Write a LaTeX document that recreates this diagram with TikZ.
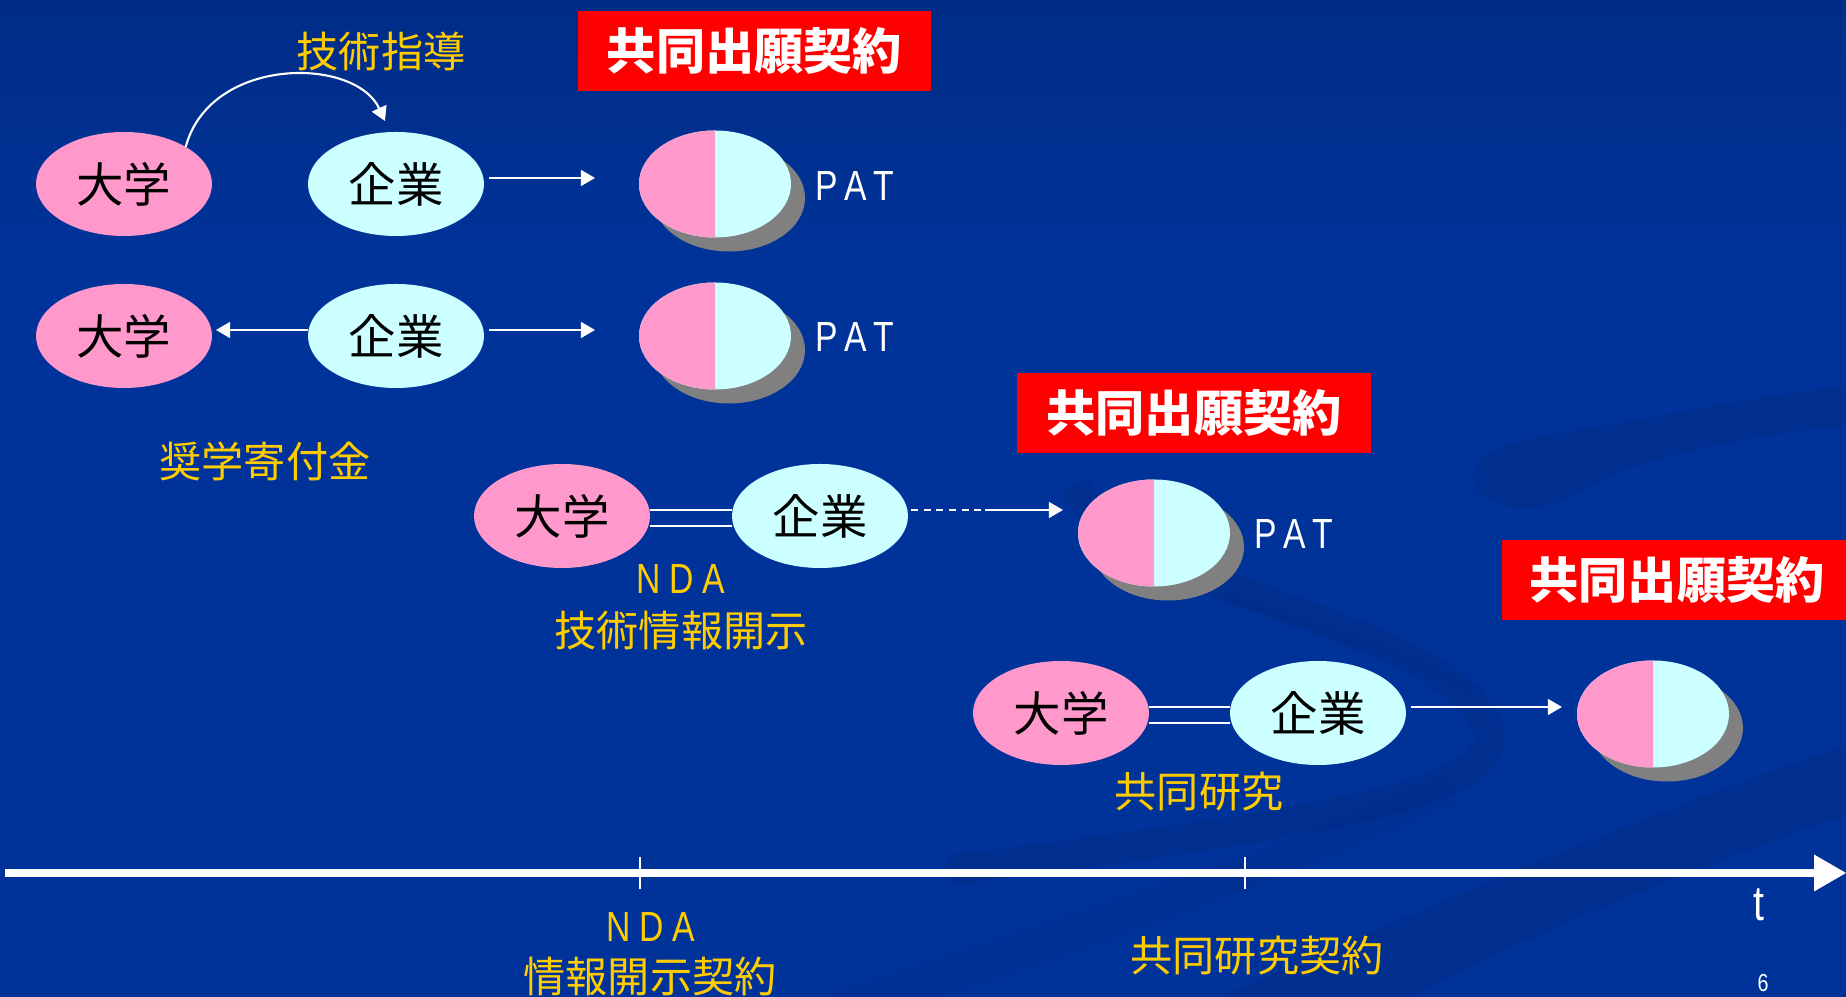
\documentclass[tikz,border=0pt]{standalone}
\usepackage{fontspec}
\usetikzlibrary{shapes.geometric,arrows.meta}
\newfontfamily\jp{Noto Sans CJK JP}
\newfontfamily\lat[FakeStretch=0.8]{Liberation Sans}
\definecolor{bgmain}{RGB}{0,51,153}
\definecolor{bgtop}{RGB}{0,44,134}
\definecolor{swc}{RGB}{0,40,125}
\definecolor{pinkc}{RGB}{255,153,204}
\definecolor{cyanc}{RGB}{204,255,255}
\definecolor{grayc}{RGB}{128,128,128}
\definecolor{yel}{RGB}{255,204,0}
\tikzset{
 uni/.style={ellipse, fill=pinkc, minimum width=1.76cm, minimum height=1.04cm, inner sep=0pt, outer sep=0pt, font=\jp\fontsize{13.5}{15}\selectfont, text=black},
 corp/.style={uni, fill=cyanc},
 pieback/.style={ellipse, fill=#1, minimum width=1.52cm, minimum height=1.07cm, inner sep=0pt, outer sep=0pt},
 redbox/.style={fill=red, minimum height=0.8cm, inner sep=0pt, font=\jp\bfseries\fontsize{14}{15}\selectfont, text=white},
 ylab/.style={text=yel, font=\jp\fontsize{12}{14}\selectfont, inner sep=0pt},
 ylat/.style={text=yel, font=\lat\fontsize{12}{14}\selectfont, inner sep=0pt},
 pat/.style={text=white, font=\lat\fontsize{12}{14}\selectfont, inner sep=0pt},
 arr/.style={draw=white, line width=0.6pt, -{Triangle[length=4pt,width=4.5pt]}},
 dbl/.style={draw=white, line width=0.6pt},
 swoosh/.style={fill=swc, fill opacity=0.35},
 swline/.style={draw=swc, draw opacity=0.3},
}
\newcommand\mypie[3]{%
 \node[pieback=grayc] (#1s) at (#2+0.14,#3-0.14) {};
 \node[pieback=cyanc] (#1) at (#2,#3) {};
 \fill[pinkc] (#1.north) arc[start angle=90,end angle=270,x radius=0.76cm,y radius=0.535cm] -- cycle;
}
\begin{document}
\begin{tikzpicture}
\useasboundingbox (0,0) rectangle (18.46,-9.97);
% background
\fill[bgmain] (0,0) rectangle (18.46,-9.97);
\shade[top color=bgtop, bottom color=bgmain] (0,0) rectangle (18.46,-2.6);
% swooshes
\fill[swoosh] (14.75,-4.9) .. controls (14.6,-4.45) and (15.4,-4.35) .. (16.1,-4.25)
  .. controls (16.9,-4.1) and (17.7,-3.95) .. (18.46,-3.86) -- (18.46,-4.25)
  .. controls (17.6,-4.35) and (16.8,-4.5) .. (16.3,-4.68)
  .. controls (15.7,-4.95) and (15.3,-5.3) .. (14.75,-4.9) -- cycle;
\draw[swline, line width=0.3cm] (10.75,-4.85) .. controls (11.2,-5.9) and (14.3,-6.2) .. (14.85,-7.2)
  .. controls (15.2,-7.9) and (13.5,-8.2) .. (9.5,-8.7);
\draw[swline, line width=0.05cm] (12.3,-6.0) .. controls (13.2,-6.3) and (14.2,-6.6) .. (14.7,-6.9);
\fill[swoosh] (12.2,-9.97) .. controls (14,-9.2) and (16,-8.3) .. (18.46,-7.45) -- (18.46,-8.15)
  .. controls (16.6,-8.8) and (15.2,-9.4) .. (14.1,-9.97) -- cycle;
\fill[swoosh, fill opacity=0.2] (8.2,-9.97) .. controls (10,-9.4) and (12.5,-8.6) .. (14.4,-7.8) -- (14.6,-8.0)
  .. controls (12.6,-8.9) and (10.5,-9.6) .. (9.4,-9.97) -- cycle;

% row 1
\node[uni] (u1) at (1.24,-1.84) {大学};
\node[corp] (c1) at (3.96,-1.84) {企業};
\mypie{p1}{7.15}{-1.84}
\node[pat] (pat1) at (8.55,-1.86) {P\hspace{0.15em}A\hspace{0.15em}T};
\node[redbox, minimum width=3.53cm] (box1) at (7.545,-0.51) {共同出願契約};
\node[ylab] (lab1) at (3.81,-0.51) {技術指導};
\coordinate (a1) at (5.95,-1.78);
\draw[arr] ([xshift=0.05cm,yshift=0.06cm]c1.east) -- (a1);
\draw[arr] (u1.31) .. controls (2.1,-0.56) and (3.55,-0.56) .. ([xshift=-0.11cm,yshift=0.11cm]c1.north);

% row 2
\node[uni] (u2) at (1.24,-3.36) {大学};
\node[corp] (c2) at (3.96,-3.36) {企業};
\mypie{p2}{7.15}{-3.36}
\node[pat] (pat2) at (8.55,-3.37) {P\hspace{0.15em}A\hspace{0.15em}T};
\node[ylab] (lab2) at (2.65,-4.61) {奨学寄付金};
\coordinate (a2) at (5.95,-3.30);
\draw[arr] ([yshift=0.06cm]c2.west) -- ([xshift=0.04cm,yshift=0.06cm]u2.east);
\draw[arr] ([xshift=0.05cm,yshift=0.06cm]c2.east) -- (a2);

% row 3
\node[uni] (u3) at (5.62,-5.16) {大学};
\node[corp] (c3) at (8.20,-5.16) {企業};
\mypie{p3}{11.54}{-5.33}
\node[pat] (pat3) at (12.94,-5.34) {P\hspace{0.15em}A\hspace{0.15em}T};
\node[redbox, minimum width=3.54cm] (box2) at (11.94,-4.13) {共同出願契約};
\node[ylat] (nda1) at (6.81,-5.79) {N\hspace{0.2em}D\hspace{0.2em}A};
\node[ylab] (lab3) at (6.81,-6.31) {技術情報開示};
\draw[dbl] ([yshift=0.06cm]u3.east) -- ([yshift=0.06cm]c3.west);
\draw[dbl] ([yshift=-0.10cm]u3.east) -- ([yshift=-0.10cm]c3.west);
\coordinate (d3) at (9.85,-5.10);
\coordinate (a3) at (10.63,-5.10);
\draw[dbl, dash pattern=on 2pt off 1.6pt] ([xshift=0.03cm,yshift=0.06cm]c3.east) -- (d3);
\draw[arr] (d3) -- (a3);

% row 4
\node[uni] (u4) at (10.61,-7.13) {大学};
\node[corp] (c4) at (13.18,-7.13) {企業};
\mypie{p4}{16.53}{-7.14}
\node[redbox, minimum width=3.50cm] (box3) at (16.77,-5.80) {共同出願契約};
\node[ylab] (lab4) at (11.99,-7.92) {共同研究};
\draw[dbl] ([yshift=0.06cm]u4.east) -- ([yshift=0.06cm]c4.west);
\draw[dbl] ([yshift=-0.10cm]u4.east) -- ([yshift=-0.10cm]c4.west);
\coordinate (a4) at (15.62,-7.07);
\draw[arr] ([xshift=0.05cm,yshift=0.06cm]c4.east) -- (a4);

% time axis
\coordinate (ax0) at (0.05,-8.73);
\coordinate (ax1) at (18.15,-8.73);
\draw[white, line width=0.08cm] (ax0) -- (ax1);
\fill[white] (18.14,-8.545) -- (18.46,-8.73) -- (18.14,-8.915) -- cycle;
\draw[white, line width=0.35pt] (6.40,-8.57) -- (6.40,-8.89);
\draw[white, line width=0.35pt] (12.45,-8.57) -- (12.45,-8.89);
\node[ylat] (nda2) at (6.51,-9.27) {N\hspace{0.2em}D\hspace{0.2em}A};
\node[ylab] (lab5) at (6.50,-9.77) {情報開示契約};
\node[ylab] (lab6) at (12.57,-9.56) {共同研究契約};
\node[text=white, font=\lat\fontsize{14}{16}\selectfont, inner sep=0pt] (tlab) at (17.59,-9.05) {t};
\node[text=white, font=\lat\fontsize{7}{8}\selectfont, inner sep=0pt, anchor=north] (pg) at (17.63,-9.74) {6};
\end{tikzpicture}
\end{document}
